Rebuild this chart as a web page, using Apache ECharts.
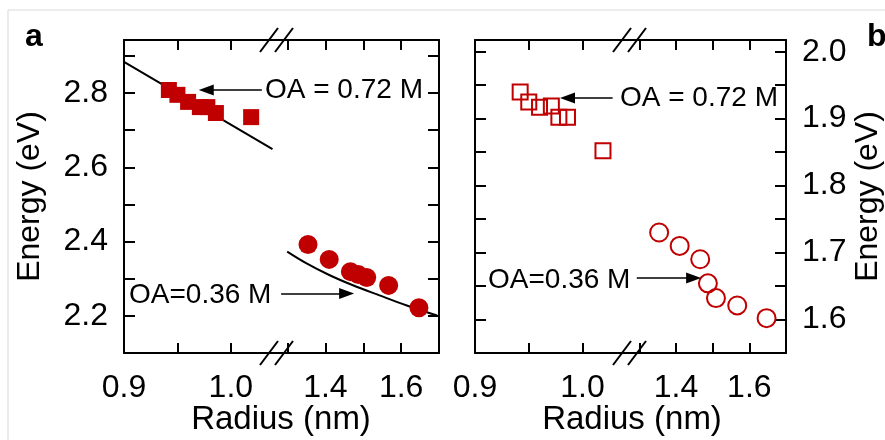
<!DOCTYPE html>
<html>
<head>
<meta charset="utf-8">
<script src="https://cdn.jsdelivr.net/npm/echarts@6/dist/echarts.min.js"></script>
<style>
  html, body { margin: 0; padding: 0; background: #fff; }
  #chart { width: 885px; height: 440px; }
</style>
</head>
<body>
<div id="chart"></div>
<script>
// radii (nm), same samples in both panels
const radiusSmall = [0.942, 0.950, 0.960, 0.971, 0.978, 0.986, 1.019];
const radiusLarge = [1.354, 1.410, 1.466, 1.487, 1.509, 1.567, 1.647];

// panel a energies (eV)
const energyA72 = [2.808, 2.795, 2.776, 2.762, 2.762, 2.746, 2.735];
const energyA36 = [2.392, 2.352, 2.319, 2.311, 2.303, 2.282, 2.222];
// panel b energies (eV)
const energyB72 = [1.940, 1.925, 1.917, 1.919, 1.902, 1.902, 1.852];
const energyB36 = [1.730, 1.710, 1.690, 1.654, 1.632, 1.621, 1.602];

// calculated curves (panel a)
const calcSmallX = [0.900, 1.039];
const calcSmallY = [2.884, 2.649];
const calcLargeX = [1.299, 1.349, 1.410, 1.471, 1.543, 1.615, 1.695];
const calcLargeY = [2.373, 2.342, 2.310, 2.283, 2.255, 2.228, 2.201];

// ticks and labels
const xTicksSmall = [0.95, 1.0];
const xLabelsSmall = [0.9, 1.0];
const xTicksLarge = [1.3, 1.4, 1.5, 1.6];
const xLabelsLarge = [1.4, 1.6];
const yTicksA = [2.2, 2.3, 2.4, 2.5, 2.6, 2.7, 2.8, 2.9];
const yLabelsA = [2.2, 2.4, 2.6, 2.8];
const yTicksB = [1.6, 1.65, 1.7, 1.75, 1.8, 1.85, 1.9, 1.95, 2.0];
const yLabelsB = [1.6, 1.7, 1.8, 1.9, 2.0];

// annotation arrows [xFrom, xTo, y]
const arrowA72 = [1.029, 0.977, 2.808];
const arrowA36 = [1.283, 1.456, 2.260];
const arrowB72 = [1.028, 0.986, 1.931];
const arrowB36 = [1.293, 1.448, 1.662];

const RED = '#C00000';
const FONT = 'Liberation Sans, Arial, sans-serif';

const zip = (xs, ys) => xs.map((x, i) => [x, ys[i]]);

function xAx(grid, min, max, pos, ticks, labels) {
  return {
    type: 'value', gridIndex: grid, position: pos, min: min, max: max,
    axisLine: { show: true, onZero: false, lineStyle: { color: '#000', width: 2 } },
    axisTick: { show: true, inside: true, length: 10, customValues: ticks, lineStyle: { color: '#000', width: 2 } },
    axisLabel: labels ? {
      show: true, customValues: labels, margin: 19, color: '#000',
      fontSize: 32, fontFamily: FONT, formatter: v => v.toFixed(1)
    } : { show: false },
    splitLine: { show: false }
  };
}

function yAx(grid, min, max, pos, ticks, labels, name, gap) {
  return {
    type: 'value', gridIndex: grid, position: pos, min: min, max: max,
    name: name || '', nameLocation: 'middle', nameGap: gap || 0,
    nameTextStyle: { fontSize: 32, fontFamily: FONT, color: '#000' },
    axisLine: { show: true, onZero: false, lineStyle: { color: '#000', width: 2 } },
    axisTick: { show: true, inside: true, length: 11, customValues: ticks, lineStyle: { color: '#000', width: 2 } },
    axisLabel: labels ? {
      show: true, customValues: labels, margin: 16, color: '#000',
      fontSize: 32, fontFamily: FONT, formatter: v => v.toFixed(1)
    } : { show: false },
    splitLine: { show: false }
  };
}

function arrow(a) {
  return {
    silent: true, symbol: ['none', 'triangle'], symbolSize: [11, 15],
    label: { show: false },
    lineStyle: { color: '#000', width: 1.5, type: 'solid' },
    itemStyle: { color: '#000' },
    data: [[{ coord: [a[0], a[2]] }, { coord: [a[1], a[2]] }]]
  };
}

function breakMark(cx, cy) {
  return [-8, 7].map(dx => ({
    type: 'line', z: 100,
    shape: { x1: cx + dx - 9, y1: cy + 12, x2: cx + dx + 9, y2: cy - 12 },
    style: { stroke: '#000', lineWidth: 2 }
  }));
}

function txt(x, y, s, size, opts) {
  return {
    type: 'text', x: x, y: y, z: 100,
    style: Object.assign({ text: s, fontSize: size, fontFamily: FONT, fill: '#000',
      textVerticalAlign: 'middle' }, opts || {})
  };
}

const chart = echarts.init(document.getElementById('chart'));

const option = {
  animation: false,
  backgroundColor: '#fff',
  grid: [
    { left: 124, top: 40, width: 156, height: 313 },
    { left: 280, top: 40, width: 159, height: 313 },
    { left: 475, top: 40, width: 157, height: 313 },
    { left: 632, top: 40, width: 157, height: 313 }
  ],
  xAxis: [
    xAx(0, 0.9, 1.046, 'bottom', xTicksSmall, xLabelsSmall),
    xAx(1, 1.28, 1.70, 'bottom', xTicksLarge, xLabelsLarge),
    xAx(2, 0.9, 1.046, 'bottom', xTicksSmall, xLabelsSmall),
    xAx(3, 1.28, 1.70, 'bottom', xTicksLarge, xLabelsLarge),
    xAx(0, 0.9, 1.046, 'top', xTicksSmall, null),
    xAx(1, 1.28, 1.70, 'top', xTicksLarge, null),
    xAx(2, 0.9, 1.046, 'top', xTicksSmall, null),
    xAx(3, 1.28, 1.70, 'top', xTicksLarge, null)
  ],
  yAxis: [
    yAx(0, 2.1, 2.9426, 'left', yTicksA, yLabelsA, 'Energy (eV)', 78),
    yAx(1, 2.1, 2.9426, 'right', yTicksA, null),
    yAx(2, 1.55, 2.0175, 'left', yTicksB, null),
    yAx(3, 1.55, 2.0175, 'right', yTicksB, yLabelsB, 'Energy (eV)', 66)
  ],
  series: [
    {
      type: 'line', xAxisIndex: 0, yAxisIndex: 0, showSymbol: false, silent: true,
      data: zip(calcSmallX, calcSmallY), lineStyle: { color: '#000', width: 2 }, z: 1
    },
    {
      type: 'line', xAxisIndex: 1, yAxisIndex: 1, showSymbol: false, silent: true, smooth: 0.4,
      data: zip(calcLargeX, calcLargeY), lineStyle: { color: '#000', width: 2 }, z: 1
    },
    {
      type: 'scatter', xAxisIndex: 0, yAxisIndex: 0, symbol: 'rect', symbolSize: 16,
      itemStyle: { color: RED, opacity: 1 }, data: zip(radiusSmall, energyA72), z: 3,
      markLine: arrow(arrowA72)
    },
    {
      type: 'scatter', xAxisIndex: 1, yAxisIndex: 1, symbol: 'circle', symbolSize: 19,
      itemStyle: { color: RED, opacity: 1 }, data: zip(radiusLarge, energyA36), z: 3,
      markLine: arrow(arrowA36)
    },
    {
      type: 'scatter', xAxisIndex: 2, yAxisIndex: 2, symbol: 'rect', symbolSize: 15,
      itemStyle: { color: 'transparent', borderColor: RED, borderWidth: 2, opacity: 1 },
      data: zip(radiusSmall, energyB72), z: 3,
      markLine: arrow(arrowB72)
    },
    {
      type: 'scatter', xAxisIndex: 3, yAxisIndex: 3, symbol: 'circle', symbolSize: 18,
      itemStyle: { color: 'transparent', borderColor: RED, borderWidth: 2, opacity: 1 },
      data: zip(radiusLarge, energyB36), z: 3,
      markLine: arrow(arrowB36)
    }
  ],
  graphic: [
    { type: 'rect', shape: { x: 8, y: 10, width: 1000, height: 600 },
      style: { fill: 'none', stroke: '#d9d9d9', lineWidth: 1 }, z: 0, silent: true },
    txt(25, 37, 'a', 32, { fontWeight: 'bold' }),
    txt(867, 37, 'b', 32, { fontWeight: 'bold' }),
    txt(281, 420, 'Radius (nm)', 33, { textAlign: 'center' }),
    txt(632, 420, 'Radius (nm)', 33, { textAlign: 'center' }),
    txt(265, 90, 'OA = 0.72 M', 28),
    txt(129, 295, 'OA=0.36 M', 28),
    txt(620, 98, 'OA = 0.72 M', 28),
    txt(488, 280, 'OA=0.36 M', 28)
  ]
    .concat(breakMark(277, 40))
    .concat(breakMark(277, 353))
    .concat(breakMark(630, 40))
    .concat(breakMark(630, 353))
};

chart.setOption(option);
</script>
</body>
</html>
